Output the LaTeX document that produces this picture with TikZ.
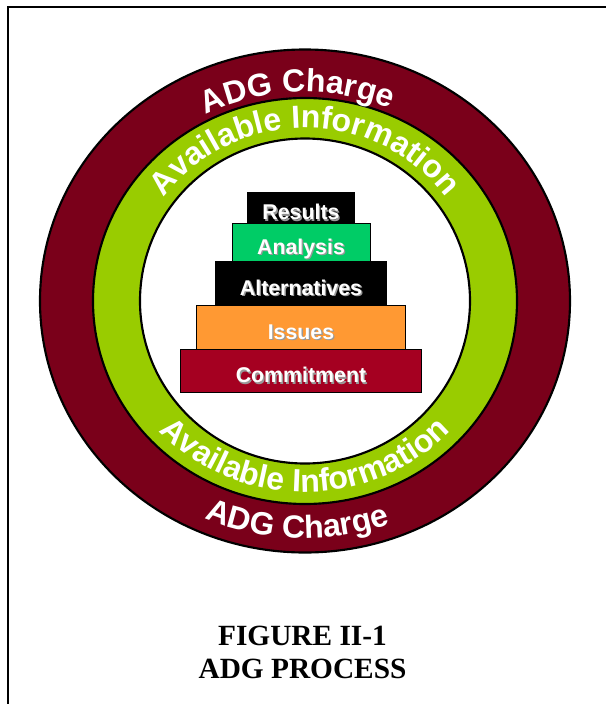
\documentclass[tikz,border=0pt]{standalone}
\usepackage{fontspec}
\setmainfont{Liberation Serif}
\setsansfont{Liberation Sans}
\usepackage{xcolor}
\usetikzlibrary{positioning,decorations.text}

\definecolor{ringred}{RGB}{122,0,26}
\definecolor{ringgreen}{RGB}{153,204,0}
\definecolor{tiergreen}{RGB}{0,204,102}
\definecolor{tierorange}{RGB}{255,153,51}
\definecolor{tierred}{RGB}{165,0,33}

\newcommand{\shadowed}[1]{\rlap{\raisebox{-1pt}{\kern1pt\textcolor{black!40}{#1}}}#1}
\newcommand{\ringfont}{\sffamily\bfseries\fontsize{24}{24}\selectfont}

\tikzset{
	tier/.style={draw=black, line width=0.6pt, text=white, inner sep=0pt, outer sep=0pt,
		font=\sffamily\bfseries\fontsize{16}{16}\selectfont,
		text height=18.4pt, text depth=0pt},
	ring/.style={draw=black, line width=1.6pt},
	ringtext/.style={decorate, decoration={text along path, text align=center, text color=white}},
	caption/.style={font=\rmfamily\bfseries\fontsize{22}{24}\selectfont, anchor=base}
}

\begin{document}
\begin{tikzpicture}[x=0.75pt,y=0.75pt]
			\useasboundingbox (-305,-403) rectangle (301,301);
			\draw[line width=1.5pt] (-296.5,-403) -- (-296.5,294.5) -- (301,294.5);
			% the two rings
			\draw[ring, fill=ringred] (0,0) ellipse [x radius=265, y radius=251.5];
			\draw[ring, fill=ringgreen] (0,0) ellipse [x radius=212, y radius=203];
			\draw[ring, fill=white] (0,0) ellipse [x radius=165, y radius=162.5];
			% lettering on the rings
			\path[ringtext, decoration={text={|\ringfont|ADG Charge}}]
				(172:219 and 209) arc[start angle=172, end angle=12, x radius=219, y radius=209];
			\path[ringtext, decoration={text={|\ringfont|Available Information}}]
				(170:176 and 173) arc[start angle=170, end angle=10, x radius=176, y radius=173];
			\path[ringtext, decoration={text={|\ringfont|ADG Charge}}]
				(188:249 and 237) arc[start angle=188, end angle=348, x radius=249, y radius=237];
			\path[ringtext, decoration={text={|\ringfont|Available Information}}]
				(190:199 and 191) arc[start angle=190, end angle=350, x radius=199, y radius=191];
			% the stack
			\node[tier, fill=tierred, minimum width=180.75pt, minimum height=32.25pt] (commit) at (-4,-69.5) {\shadowed{Commitment}};
			\node[tier, fill=tierorange, minimum width=156.75pt, minimum height=33pt, above=0pt of commit] (issues) {\shadowed{Issues}};
			\node[tier, fill=black, minimum width=128.25pt, minimum height=33pt, above=0pt of issues] (alts) {\shadowed{Alternatives}};
			\node[tier, fill=tiergreen, minimum width=103.5pt, minimum height=28.5pt, above=0pt of alts] (analysis) {\shadowed{Analysis}};
			\node[tier, fill=black, minimum width=80.25pt, minimum height=23.25pt, above=0pt of analysis] (results) {\shadowed{Results}};
			% caption
			\node[caption] (fignum) at (-2.5,-344) {FIGURE II-1};
			\node[caption] (figtitle) at (-2.5,-377) {ADG PROCESS};
		\end{tikzpicture}
\end{document}
